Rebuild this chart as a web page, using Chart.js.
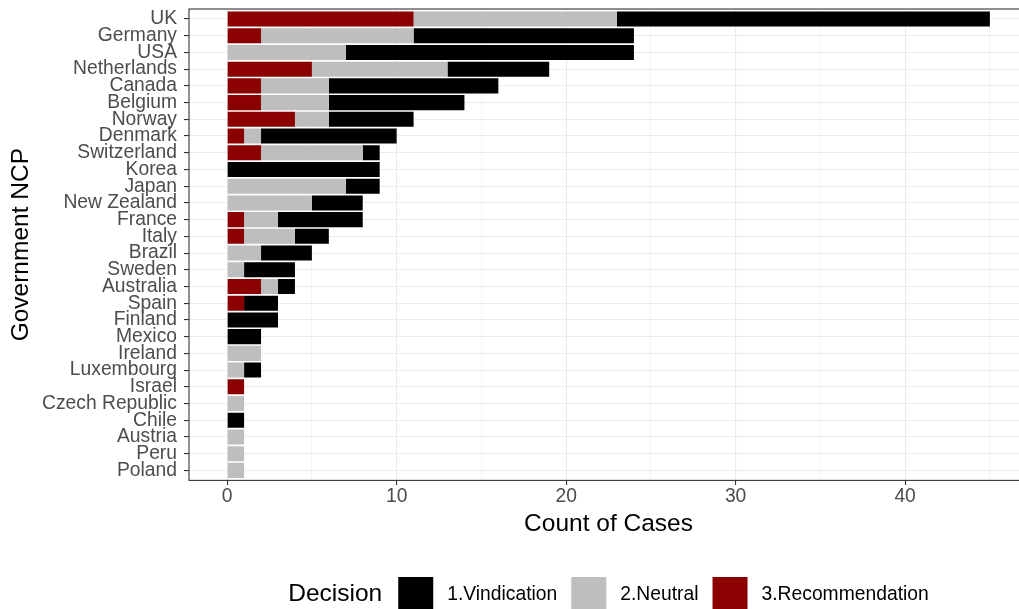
<!DOCTYPE html>
<html>
<head>
<meta charset="utf-8">
<script src="https://cdn.jsdelivr.net/npm/chart.js@4/dist/chart.umd.min.js"></script>
<style>
  html, body { margin: 0; padding: 0; background: #fff; width: 1019px; height: 609px; overflow: hidden; }
  #wrap { position: absolute; left: 0; top: 0; width: 1040px; height: 609px; }
</style>
</head>
<body>
<div id="wrap"><canvas id="chart" width="1040" height="609"></canvas></div>
<script>
// Countries, ordered by total number of cases (largest first)
const countries = ['UK', 'Germany', 'USA', 'Netherlands', 'Canada', 'Belgium', 'Norway', 'Denmark',
  'Switzerland', 'Korea', 'Japan', 'New Zealand', 'France', 'Italy', 'Brazil', 'Sweden', 'Australia',
  'Spain', 'Finland', 'Mexico', 'Ireland', 'Luxembourg', 'Israel', 'Czech Republic', 'Chile',
  'Austria', 'Peru', 'Poland'];

// Case counts per decision type, aligned with `countries`
const recommendation = [11, 2, 0, 5, 2, 2, 4, 1, 2, 0, 0, 0, 1, 1, 0, 0, 2, 1, 0, 0, 0, 0, 1, 0, 0, 0, 0, 0];
const neutral        = [12, 9, 7, 8, 4, 4, 2, 1, 6, 0, 7, 5, 2, 3, 2, 1, 1, 0, 0, 0, 2, 1, 0, 1, 0, 1, 1, 1];
const vindication    = [22, 13, 17, 6, 10, 8, 5, 8, 1, 9, 2, 3, 5, 2, 3, 3, 1, 2, 3, 2, 0, 1, 0, 0, 1, 0, 0, 0];

const seriesLabels = ['3.Recommendation', '2.Neutral', '1.Vindication'];
const seriesColors = ['#8B0000', '#BEBEBE', '#000000'];

// Axis ticks and ranges (5% / 0.6-category padding around the data)
const xTicks = [0, 5, 10, 15, 20, 25, 30, 35, 40, 45];
const xRange = [-2.25, 47.25];
const yRange = [-0.6, countries.length - 1 + 0.6];

const FONT = '"Liberation Sans", Arial, Helvetica, sans-serif';
const TEXT_SIZE = 19.3;
const TITLE_SIZE = 24.5;
Chart.defaults.font.family = FONT;

const toPoints = vals => vals.map((v, i) => ({ x: v, y: i }));
const seriesValues = [recommendation, neutral, vindication];

const datasets = seriesValues.map((vals, k) => ({
  label: seriesLabels[k],
  data: toPoints(vals),
  backgroundColor: seriesColors[k],
  borderWidth: 0,
  barPercentage: 0.9,
  categoryPercentage: 1.0
}));

// Dark frame around the plotting panel
const panelBorder = {
  id: 'panelBorder',
  afterDatasetsDraw(chart) {
    const { ctx, chartArea: a } = chart;
    ctx.save();
    ctx.strokeStyle = '#333333';
    ctx.lineWidth = 1.1;
    ctx.strokeRect(a.left, a.top, a.right - a.left, a.bottom - a.top);
    ctx.restore();
  }
};

// Horizontal legend with a "Decision" heading, centred under the panel
const decisionLegend = {
  id: 'decisionLegend',
  afterDraw(chart) {
    const { ctx, chartArea: a } = chart;
    const items = [2, 1, 0].map(i => chart.data.datasets[i]);
    const titleFont = TITLE_SIZE + 'px ' + FONT;
    const itemFont = TEXT_SIZE + 'px ' + FONT;
    const box = 35, gapTitle = 16, gapText = 14, gapItem = 14, cy = 594.5;
    ctx.save();
    ctx.textBaseline = 'middle';
    ctx.textAlign = 'left';
    ctx.font = titleFont;
    const tw = ctx.measureText('Decision').width;
    ctx.font = itemFont;
    const widths = items.map(d => ctx.measureText(d.label).width);
    const total = tw + gapTitle + widths.reduce((s, w) => s + box + gapText + w, 0) + gapItem * (items.length - 1);
    let x = (a.left + a.right) / 2 - total / 2;
    ctx.fillStyle = '#000';
    ctx.font = titleFont;
    ctx.fillText('Decision', x, cy);
    x += tw + gapTitle;
    items.forEach((d, k) => {
      ctx.fillStyle = d.backgroundColor;
      ctx.fillRect(x, cy - box / 2, box, box);
      x += box + gapText;
      ctx.fillStyle = '#000';
      ctx.font = itemFont;
      ctx.fillText(d.label, x, cy);
      x += widths[k] + gapItem;
    });
    ctx.restore();
  }
};

const isMajor = v => v % 10 === 0;

new Chart(document.getElementById('chart'), {
  type: 'bar',
  data: { datasets },
  plugins: [panelBorder, decisionLegend],
  options: {
    indexAxis: 'y',
    responsive: false,
    animation: false,
    devicePixelRatio: 1,
    layout: { padding: { left: 0, top: 9, right: 12, bottom: 68.6 } },
    plugins: {
      legend: { display: false },
      tooltip: { enabled: false }
    },
    scales: {
      x: {
        type: 'linear',
        stacked: true,
        offset: false,
        min: xRange[0],
        max: xRange[1],
        afterBuildTicks: s => {
          s.ticks = xTicks.map(v => ({ value: v }));
          s.min = xRange[0];
          s.max = xRange[1];
        },
        afterFit: s => { s.height = 60; s.paddingLeft = 0; s.paddingRight = 0; },
        border: { display: false },
        grid: {
          offset: false,
          color: c => (c.tick && isMajor(c.tick.value)) ? '#EBEBEB' : '#EDEDED',
          lineWidth: c => (c.tick && isMajor(c.tick.value)) ? 1.1 : 0.55,
          tickColor: c => (c.tick && isMajor(c.tick.value)) ? '#333333' : 'rgba(0,0,0,0)',
          tickLength: 4.5,
          tickWidth: 1.1
        },
        ticks: {
          autoSkip: false,
          maxRotation: 0,
          padding: 0.5,
          color: '#4D4D4D',
          font: { size: TEXT_SIZE },
          callback: v => isMajor(v) ? String(v) : ''
        },
        title: {
          display: true,
          text: 'Count of Cases',
          color: '#000',
          font: { size: TITLE_SIZE },
          padding: { top: 0, bottom: 1.7 }
        }
      },
      y: {
        type: 'linear',
        stacked: true,
        reverse: true,
        offset: false,
        min: yRange[0],
        max: yRange[1],
        afterBuildTicks: s => {
          s.ticks = countries.map((_, i) => ({ value: i }));
          s.min = yRange[0];
          s.max = yRange[1];
        },
        afterFit: s => { s.width = 189; s.paddingTop = 0; s.paddingBottom = 0; },
        border: { display: false },
        grid: {
          offset: false,
          color: '#EBEBEB',
          lineWidth: 1.1,
          tickColor: '#333333',
          tickLength: 5,
          tickWidth: 1.1
        },
        ticks: {
          autoSkip: false,
          padding: 7,
          color: '#4D4D4D',
          font: { size: TEXT_SIZE },
          callback: v => countries[v]
        },
        title: {
          display: true,
          text: 'Government NCP',
          color: '#000',
          font: { size: TITLE_SIZE },
          padding: { top: 6.3, bottom: 0 }
        }
      }
    }
  }
});
</script>
</body>
</html>
